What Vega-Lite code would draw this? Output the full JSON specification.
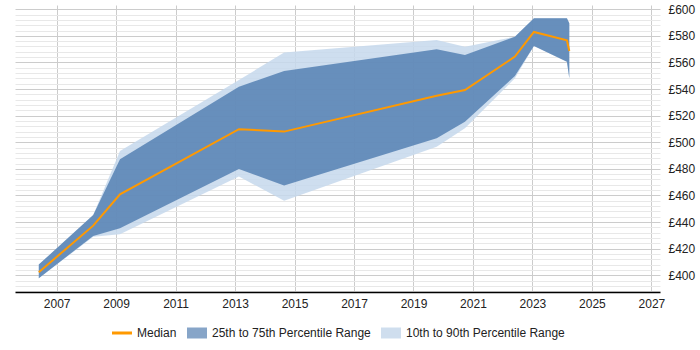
{
  "$schema": "https://vega.github.io/schema/vega-lite/v6.json",
  "autosize": {"type": "none"},
  "width": 645,
  "height": 287,
  "padding": {"left": 15, "top": 5, "right": 40, "bottom": 58},
  "background": "white",
  "config": {
    "view": {"stroke": null},
    "axis": {"labelFont": "Liberation Sans", "labelFontSize": 12, "labelColor": "#222"},
    "legend": {"labelFont": "Liberation Sans", "labelFontSize": 12, "labelColor": "#222"}
  },
  "data": {
    "values": [
      {"year": 2006.40, "median": 402.3, "p25": 397.7, "p75": 408.0, "p10": 397.7, "p90": 408.0},
      {"year": 2008.23, "median": 437.3, "p25": 429.6, "p75": 445.3, "p10": 429.0, "p90": 445.3},
      {"year": 2009.13, "median": 460.9, "p25": 435.3, "p75": 487.2, "p10": 430.8, "p90": 493.5},
      {"year": 2013.13, "median": 509.8, "p25": 479.9, "p75": 541.8, "p10": 474.2, "p90": 546.8},
      {"year": 2014.65, "median": 508.0, "p25": 467.4, "p75": 553.6, "p10": 456.1, "p90": 567.4},
      {"year": 2019.78, "median": 535.0, "p25": 503.0, "p75": 569.9, "p10": 496.7, "p90": 576.9},
      {"year": 2020.73, "median": 539.3, "p25": 515.5, "p75": 565.6, "p10": 510.5, "p90": 571.9},
      {"year": 2022.41, "median": 564.4, "p25": 549.8, "p75": 579.4, "p10": 548.1, "p90": 579.4},
      {"year": 2023.05, "median": 582.9, "p25": 572.4, "p75": 593.2, "p10": 572.4, "p90": 593.2},
      {"year": 2024.16, "median": 576.7, "p25": 560.6, "p75": 593.2, "p10": 560.6, "p90": 593.2},
      {"year": 2024.24, "median": 568.6, "p25": 548.1, "p75": 589.5, "p10": 548.1, "p90": 589.5}
    ]
  },
  "layer": [
    {
      "mark": {"type": "area", "color": "#c6d8ec", "opacity": 0.85},
      "encoding": {
        "x": {
          "field": "year", "type": "quantitative",
          "scale": {"domain": [2005.6, 2027.29], "nice": false, "zero": false},
          "axis": {
            "title": null, "values": [2007, 2009, 2011, 2013, 2015, 2017, 2019, 2021, 2023, 2025, 2027],
            "format": "d", "grid": true, "gridColor": "#cccccc", "ticks": false,
            "domainColor": "#000000", "domainWidth": 1.5, "labelPadding": 6
          }
        },
        "y": {
          "field": "p10", "type": "quantitative",
          "scale": {"domain": [387.4, 603.2], "nice": false, "zero": false},
          "axis": {
            "orient": "left", "title": null, "labels": false, "ticks": false, "domain": false,
            "grid": true, "gridColor": "#e8e8e8",
            "values": [388,392,396,404,408,412,416,424,428,432,436,444,448,452,456,464,468,472,476,484,488,492,496,504,508,512,516,524,528,532,536,544,548,552,556,564,568,572,576,584,588,592,596]
          }
        },
        "y2": {"field": "p90"}
      }
    },
    {
      "mark": {"type": "area", "color": "#4a78ad", "opacity": 0.78},
      "encoding": {
        "x": {"field": "year", "type": "quantitative"},
        "y": {
          "field": "p25", "type": "quantitative",
          "axis": {
            "orient": "right", "title": null, "ticks": false, "domain": false,
            "grid": true, "gridColor": "#cccccc", "labelPadding": 8,
            "values": [400, 420, 440, 460, 480, 500, 520, 540, 560, 580, 600],
            "labelExpr": "'£' + datum.value"
          }
        },
        "y2": {"field": "p75"}
      }
    },
    {
      "mark": {"type": "line", "color": "#ff9900", "strokeWidth": 2},
      "encoding": {
        "x": {"field": "year", "type": "quantitative"},
        "y": {"field": "median", "type": "quantitative", "axis": null}
      }
    },
    {
      "transform": [{"filter": "false"}],
      "mark": {"type": "point", "filled": true, "opacity": 1},
      "encoding": {
        "color": {
          "field": "series", "type": "nominal",
          "scale": {"domain": ["Median", "25th to 75th Percentile Range", "10th to 90th Percentile Range"], "range": ["#ff9900", "#87a5c8", "#cfdeee"]},
          "legend": {
            "orient": "none", "legendX": 97, "legendY": 318, "direction": "horizontal", "title": null,
            "symbolSize": 400, "symbolStrokeWidth": 0, "labelOffset": 5, "columnPadding": 10, "padding": 0
          }
        },
        "shape": {
          "field": "series", "type": "nominal",
          "scale": {"domain": ["Median", "25th to 75th Percentile Range", "10th to 90th Percentile Range"], "range": ["M-1,-0.15H1V0.15H-1Z", "M-1,-0.55H1V0.55H-1Z", "M-1,-0.55H1V0.55H-1Z"]},
          "legend": {
            "orient": "none", "legendX": 97, "legendY": 318, "direction": "horizontal", "title": null,
            "symbolSize": 400, "symbolStrokeWidth": 0, "labelOffset": 5, "columnPadding": 10, "padding": 0
          }
        }
      }
    }
  ],
  "resolve": {"axis": {"y": "independent"}}
}
